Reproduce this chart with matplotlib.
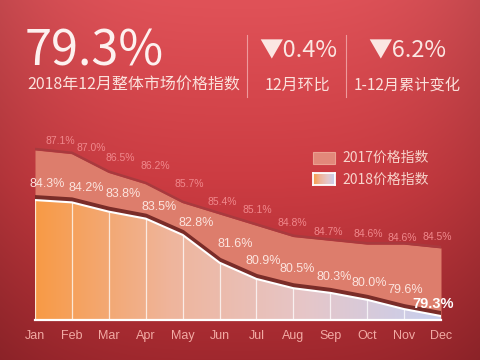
import numpy as np
import matplotlib
matplotlib.use('Agg')
import matplotlib.pyplot as plt
import matplotlib.transforms as mtransforms
from matplotlib.colors import LinearSegmentedColormap
from matplotlib.patches import Rectangle

plt.rcParams['font.family'] = ['Noto Sans CJK SC', 'DejaVu Sans']

# data
months = ['Jan', 'Feb', 'Mar', 'Apr', 'May', 'Jun',
          'Jul', 'Aug', 'Sep', 'Oct', 'Nov', 'Dec']
idx_2017 = [87.1, 87.0, 86.5, 86.2, 85.7, 85.4, 85.1, 84.8, 84.7, 84.6, 84.6, 84.5]
idx_2018 = [84.3, 84.2, 83.8, 83.5, 82.8, 81.6, 80.9, 80.5, 80.3, 80.0, 79.6, 79.3]
series_names = ['2017价格指数', '2018价格指数']

headline = '79.3%'
headline_caption = '2018年12月整体市场价格指数'
mom_change = '0.4%'
mom_caption = '12月环比'
ytd_change = '6.2%'
ytd_caption = '1-12月累计变化'

# layout (pixel offsets of the value labels)
off_2017 = [(25, 9), (19, 6), (11, 15), (10, 18), (7, 19), (3, 12),
            (1, 15), (-1, 14), (-2, 8), (1, 10), (-2, 6), (-4, 11)]
off_2018 = [(12, 16), (14, 14), (14, 18), (13, 12), (14, 12), (16, 19),
            (7, 18), (4, 19), (4, 16), (2, 17), (1, 19), (-8, 12)]
lim_2017 = (82.59, 87.63)
lim_2018 = (79.13, 87.32)

W, H = 480, 360


def fx(x):
    return x / W


def fy(y):
    return 1 - y / H


fig = plt.figure(figsize=(4.8, 3.6), dpi=100)

# background gradient
bg = fig.add_axes([0, 0, 1, 1])
t = np.linspace(0, 1, H)[:, None]
s = np.linspace(0, 1, W)[None, :]
top = np.array([224, 82, 88]) / 255
mid = np.array([204, 60, 66]) / 255
bot = np.array([160, 40, 46]) / 255
tt = t[..., None]
col = np.where(tt < 0.5, top + (mid - top) * (tt / 0.5), mid + (bot - mid) * ((tt - 0.5) / 0.5))
col = np.broadcast_to(col, (H, W, 3)).copy()
vign = 1 - 0.13 * (np.abs(s - 0.5) * 2) ** 3
col = col * vign[..., None]
bg.imshow(col, aspect='auto', extent=[0, 1, 0, 1])
bg.axis('off')

# header
fig.text(fx(25), fy(66), headline, fontsize=35, color='#FDF1EF', va='baseline', ha='left')
fig.text(fx(27), fy(85), headline_caption, fontsize=11.5, color='#FBE1DC', va='center', ha='left')
for xs in (247, 346):
    fig.add_artist(plt.Line2D([fx(xs), fx(xs)], [fy(35), fy(97)], color='#EE9A9C', lw=0.8))
fig.text(fx(298), fy(51), '▼' + mom_change, fontsize=17, color='#FBE6E2', va='center', ha='center')
fig.text(fx(297), fy(85), mom_caption, fontsize=11.5, color='#FBE1DC', va='center', ha='center')
fig.text(fx(407), fy(51), '▼' + ytd_change, fontsize=17, color='#FBE6E2', va='center', ha='center')
fig.text(fx(407), fy(85), ytd_caption, fontsize=11, color='#FBE1DC', va='center', ha='center')

# chart axes: 2017 below, 2018 on a twin scale above
ax = fig.add_axes([fx(35), 40 / H, 406 / W, 190 / H])
ax.patch.set_visible(False)
ax2 = ax.twinx()
x = np.arange(len(months))

ax.fill_between(x, idx_2017, lim_2017[0], color='#DD7D6C', lw=0, zorder=1)
edge = mtransforms.offset_copy(ax.transData, fig=fig, x=0, y=1, units='dots')
ax.plot(x, idx_2017, color='#A83A3E', lw=1.8, transform=edge, zorder=2, solid_joinstyle='round')

shadow = mtransforms.offset_copy(ax2.transData, fig=fig, x=0, y=2.5, units='dots')
ax2.plot(x, idx_2018, color='#7A2C28', lw=3.6, transform=shadow, zorder=1, solid_joinstyle='round')
poly = ax2.fill_between(x, idx_2018, lim_2018[0], color='none', lw=0)
cmap = LinearSegmentedColormap.from_list('g18', ['#F89A45', '#EFB59C', '#E6C6C8', '#C7CFEF'])
grad = np.linspace(0, 1, 256)[None, :]
img = ax2.imshow(grad, cmap=cmap, aspect='auto', extent=[0, 11, lim_2018[0], lim_2018[1]],
                 zorder=2, interpolation='bicubic')
img.set_clip_path(poly.get_paths()[0], transform=ax2.transData)
ax2.vlines(x, lim_2018[0], idx_2018, color='white', lw=0.9, alpha=0.75, zorder=3)
ax2.plot(x, idx_2018, color='white', lw=1.5, zorder=4, solid_joinstyle='round')

ax.set_xlim(0, 11)
ax.set_ylim(*lim_2017)
ax2.set_ylim(*lim_2018)
ax2.set_xlim(0, 11)

for a in (ax, ax2):
    a.set_yticks([])
    for sp in a.spines.values():
        sp.set_visible(False)
ax2.spines['bottom'].set_visible(True)
ax2.spines['bottom'].set_color('white')
ax2.spines['bottom'].set_linewidth(1.6)
ax2.spines['bottom'].set_zorder(5)

ax.set_xticks(x)
ax.set_xticklabels(months, fontsize=9, color='#F2AAA4', family='Liberation Sans')
ax.tick_params(axis='x', length=0, pad=7)

# value labels
for i, v in enumerate(idx_2017):
    ax.annotate(f'{v:.1f}%', (x[i], v), xytext=off_2017[i], textcoords='offset pixels',
                ha='center', va='center', fontsize=7.5, color='#F0888C',
                family='Liberation Sans', zorder=6, annotation_clip=False)
for i, v in enumerate(idx_2018):
    last = i == len(idx_2018) - 1
    ax2.annotate(f'{v:.1f}%', (x[i], v), xytext=off_2018[i], textcoords='offset pixels',
                 ha='center', va='center', fontsize=10.5 if last else 9,
                 fontweight='bold' if last else 'normal',
                 color='white' if last else '#FCE4DE',
                 family='Liberation Sans', zorder=6, annotation_clip=False)

# legend
sw1 = Rectangle((fx(313), fy(164)), 22 / W, 12 / H, transform=fig.transFigure,
                facecolor='#E2887A', edgecolor='#EBA090', lw=0.8)
fig.add_artist(sw1)
lg = fig.add_axes([fx(313), fy(185), 22 / W, 12 / H])
lg.imshow(grad, cmap=cmap, aspect='auto', extent=[0, 1, 0, 1])
lg.set_xticks([])
lg.set_yticks([])
for sp in lg.spines.values():
    sp.set_color('white')
    sp.set_linewidth(1.3)
fig.text(fx(342), fy(158), series_names[0], fontsize=10, color='#F7D3CB', va='center', ha='left')
fig.text(fx(342), fy(180), series_names[1], fontsize=10, color='#F7D3CB', va='center', ha='left')

fig.savefig('out.png', dpi=100)
